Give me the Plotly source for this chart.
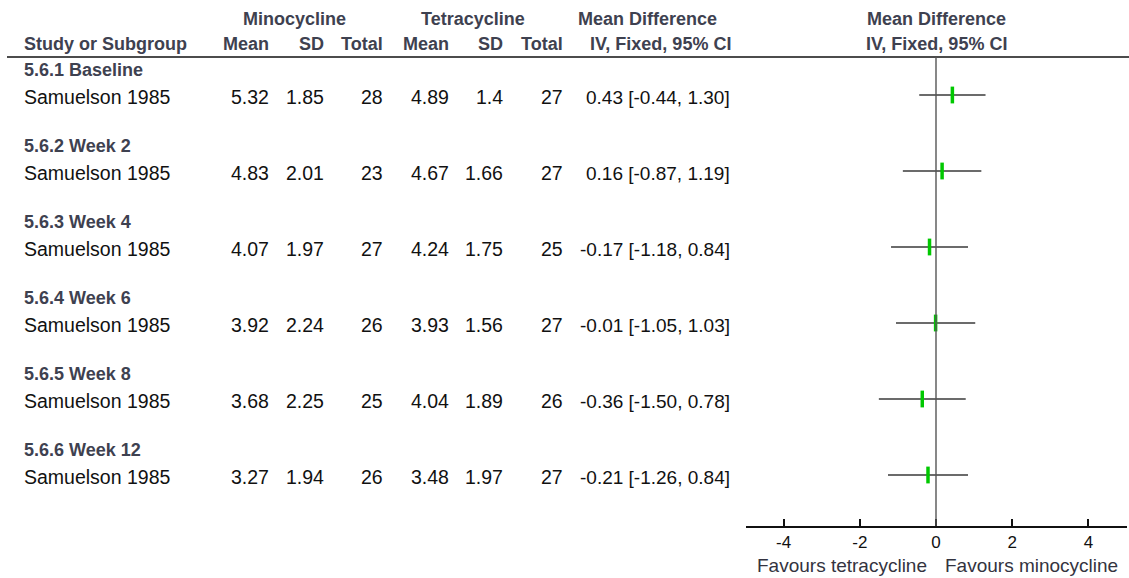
import plotly.graph_objects as go

# ---- data ----
groups = ["5.6.1 Baseline", "5.6.2 Week 2", "5.6.3 Week 4",
          "5.6.4 Week 6", "5.6.5 Week 8", "5.6.6 Week 12"]
studies = ["Samuelson 1985"] * 6
mino_mean = [5.32, 4.83, 4.07, 3.92, 3.68, 3.27]
mino_sd = [1.85, 2.01, 1.97, 2.24, 2.25, 1.94]
mino_n = [28, 23, 27, 26, 25, 26]
tetra_mean = [4.89, 4.67, 4.24, 3.93, 4.04, 3.48]
tetra_sd = [1.4, 1.66, 1.75, 1.56, 1.89, 1.97]
tetra_n = [27, 27, 25, 27, 26, 27]
mean_diff = [0.43, 0.16, -0.17, -0.01, -0.36, -0.21]
ci_low = [-0.44, -0.87, -1.18, -1.05, -1.50, -1.26]
ci_high = [1.30, 1.19, 0.84, 1.03, 0.78, 0.84]
x_ticks = [-4, -2, 0, 2, 4]

# ---- layout constants (pixels) ----
W, H = 1129, 578
FONT = "Liberation Sans, Arial, sans-serif"
HEAD_COLOR = "#3e4150"
TEXT_COLOR = "#111111"
AXIS_Y = 526          # pixel row of the x axis
HEADER_LINE_Y = 57
ROW_STEP = 76
PAD = 2               # annotation box padding to compensate


def px(x):
    return x / W


def group_y(i):
    return 70 + ROW_STEP * i


def study_y(i):
    return 97 + ROW_STEP * i


def mark_y(i):
    return 95 + ROW_STEP * i


annotations = []


def text(x, y, s, anchor="left", bold=False, size=None, color=None, yref="y"):
    if anchor == "left":
        x -= PAD
    elif anchor == "right":
        x += PAD
    annotations.append(dict(
        x=px(x), y=y if yref == "y" else (H - y) / H,
        xref="paper", yref=yref, text=f"<b>{s}</b>" if bold else s,
        xanchor=anchor, yanchor="middle", showarrow=False,
        font=dict(family=FONT, size=size or (18 if bold else 19.5),
                  color=color or (HEAD_COLOR if bold else TEXT_COLOR)),
    ))


# column headers
text(294, 19, "Minocycline", "center", bold=True)
text(473, 19, "Tetracycline", "center", bold=True)
text(647, 19, "Mean Difference", "center", bold=True)
text(936, 19, "Mean Difference", "center", bold=True)
text(24, 44, "Study or Subgroup", bold=True)
text(269, 44, "Mean", "right", bold=True)
text(324, 44, "SD", "right", bold=True)
text(383, 44, "Total", "right", bold=True)
text(449, 44, "Mean", "right", bold=True)
text(503, 44, "SD", "right", bold=True)
text(563, 44, "Total", "right", bold=True)
text(731, 44, "IV, Fixed, 95% CI", "right", bold=True)
text(936, 44, "IV, Fixed, 95% CI", "center", bold=True)

# table body
for i, g in enumerate(groups):
    text(24, group_y(i), g, bold=True)
    y = study_y(i)
    text(24, y, studies[i])
    text(269, y, f"{mino_mean[i]:.2f}", "right")
    text(324, y, f"{mino_sd[i]:g}", "right")
    text(383, y, str(mino_n[i]), "right")
    text(449, y, f"{tetra_mean[i]:.2f}", "right")
    text(503, y, f"{tetra_sd[i]:g}", "right")
    text(563, y, str(tetra_n[i]), "right")
    text(730, y, f"{mean_diff[i]:.2f} [{ci_low[i]:.2f}, {ci_high[i]:.2f}]",
         "right", size=19)

# favours labels under the axis
text(927, 565, "Favours tetracycline", "right", size=19, color="#333340", yref="paper")
text(945, 565, "Favours minocycline", "left", size=19, color="#333340", yref="paper")

fig = go.Figure()
fig.add_trace(go.Scatter(
    x=mean_diff,
    y=[mark_y(i) for i in range(len(mean_diff))],
    mode="markers",
    marker=dict(symbol="line-ns", size=12,
                line=dict(width=3.5, color="#00c800")),
    error_x=dict(type="data", symmetric=False,
                 array=[h - m for h, m in zip(ci_high, mean_diff)],
                 arrayminus=[m - l for m, l in zip(mean_diff, ci_low)],
                 color="#3a3a3a", thickness=1.4, width=0),
    cliponaxis=False,
    hoverinfo="skip",
    showlegend=False,
))

shapes = [
    # rule under the column headers
    dict(type="line", xref="paper", yref="y", x0=px(7), x1=1,
         y0=HEADER_LINE_Y, y1=HEADER_LINE_Y, line=dict(color="#111", width=1.6)),
    # line of no effect
    dict(type="line", xref="x", yref="y", x0=0, x1=0,
         y0=HEADER_LINE_Y, y1=AXIS_Y, line=dict(color="#555", width=1.4)),
]

fig.update_layout(
    width=W, height=H,
    margin=dict(l=0, r=0, t=0, b=0),
    paper_bgcolor="white", plot_bgcolor="white",
    annotations=annotations,
    shapes=shapes,
    xaxis=dict(
        domain=[px(745.5), px(1126.5)], range=[-5, 5],
        tickvals=x_ticks, ticktext=[str(t) for t in x_ticks],
        showline=True, linecolor="#111", linewidth=1.6,
        ticks="inside", ticklen=7, tickwidth=1.6, tickcolor="#111",
        tickfont=dict(family=FONT, size=17, color="#111"),
        showgrid=False, zeroline=False, fixedrange=True,
    ),
    yaxis=dict(
        domain=[(H - AXIS_Y) / H, 1], range=[AXIS_Y, 0],
        visible=False, showgrid=False, zeroline=False, fixedrange=True,
    ),
)

fig.write_html("out.html")
